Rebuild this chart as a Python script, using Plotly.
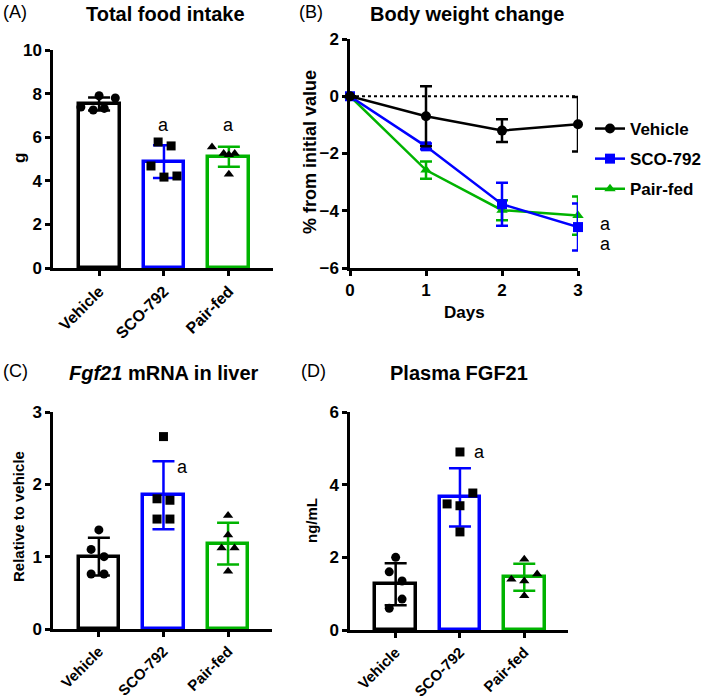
import plotly.graph_objects as go

# ---------------- data ----------------
groups = ["Vehicle", "SCO-792", "Pair-fed"]

# (A) Total food intake (g)
food_mean = [7.52, 4.88, 5.10]
food_sd = [0.30, 0.75, 0.46]
food_vehicle = [7.38, 7.25, 7.32, 7.90, 7.80]
food_sco = [4.68, 4.17, 4.22, 5.78, 5.60]
food_pair = [5.55, 5.25, 5.25, 5.20, 4.30]

# (B) Body weight change (% from initial value)
days = [0, 1, 2, 3]
bw_vehicle = [0.0, -0.70, -1.20, -0.98]
bw_vehicle_sd = [0.0, 1.05, 0.40, 0.95]
bw_sco = [0.0, -1.75, -3.77, -4.57]
bw_sco_sd = [0.0, 0.10, 0.75, 0.82]
bw_pair = [0.0, -2.58, -3.98, -4.17]
bw_pair_sd = [0.0, 0.30, 0.35, 0.67]

# (C) Fgf21 mRNA in liver (relative to vehicle)
mrna_mean = [1.00, 1.85, 1.18]
mrna_sd = [0.26, 0.47, 0.29]
mrna_vehicle = [1.37, 1.10, 1.00, 0.76, 0.76]
mrna_sco = [2.66, 1.80, 1.78, 1.52, 1.52]
mrna_pair = [1.57, 1.30, 1.12, 1.12, 0.80]

# (D) Plasma FGF21 (ng/mL)
fgf_mean = [1.26, 3.65, 1.45]
fgf_sd = [0.58, 0.80, 0.37]
fgf_vehicle = [2.00, 1.60, 1.35, 0.85, 0.60]
fgf_sco = [4.90, 3.77, 3.47, 3.42, 2.70]
fgf_pair = [1.95, 1.40, 1.35, 1.54, 0.94]

# horizontal scatter offsets of the individual dots (category units)
jit_A = [[-0.28, -0.09, 0.08, 0.0, 0.25], [-0.20, 0.0, 0.20, -0.09, 0.11], [-0.26, -0.08, 0.09, 0.0, 0.0]]
jit_C = [[0.0, -0.12, 0.08, -0.12, 0.08], [0.0, -0.10, 0.10, -0.10, 0.10], [0.0, 0.0, -0.10, 0.10, 0.0]]
jit_D = [[0.0, -0.10, 0.10, 0.10, -0.10], [0.0, 0.20, -0.20, 0.0, 0.0], [0.0, -0.20, 0.0, 0.20, 0.0]]

# significance marks
sig_A = [(1, 6.55), (2, 6.55)]
sig_B = [-4.45, -5.15]
sig_C = (1, 2.24)
sig_D = (1, 4.9)

# ---------------- style ----------------
FONT = "Liberation Sans, Arial, sans-serif"
colors = ["#000000", "#0000ff", "#00b300"]
symbols = ["circle", "square", "triangle-up"]
W, H = 709, 700


def dx(a, b):
    return [a / W, b / W]


def dy(top, bottom):
    return [1 - bottom / H, 1 - top / H]


fig = go.Figure()

axis_common = dict(showline=True, linecolor="black", linewidth=2.5, ticks="outside",
                   ticklen=5, tickwidth=2.5, tickcolor="black", showgrid=False,
                   zeroline=False, mirror=False, automargin=False,
                   tickfont=dict(family=FONT, size=17, color="black", weight="bold"))


def bar_panel(xa, ya, means, sds, pts, jit):
    for i in range(3):
        fig.add_trace(go.Bar(
            x=[i], y=[means[i]], width=0.63, xaxis=xa, yaxis=ya,
            marker=dict(color="white", line=dict(color=colors[i], width=3.5)),
            error_y=dict(type="data", array=[sds[i]], color=colors[i], thickness=2.5, width=11),
            showlegend=False, hoverinfo="skip"))
    for i in range(3):
        fig.add_trace(go.Scatter(
            x=[i + o for o in jit[i]], y=pts[i], mode="markers", xaxis=xa, yaxis=ya,
            marker=dict(symbol=symbols[i], size=9, color="black"),
            showlegend=False, hoverinfo="skip", cliponaxis=False))


bar_panel("x", "y", food_mean, food_sd, [food_vehicle, food_sco, food_pair], jit_A)
bar_panel("x3", "y3", mrna_mean, mrna_sd, [mrna_vehicle, mrna_sco, mrna_pair], jit_C)
bar_panel("x4", "y4", fgf_mean, fgf_sd, [fgf_vehicle, fgf_sco, fgf_pair], jit_D)

# line panel B (draw pair-fed first so vehicle is on top; legend ranked Vehicle first)
series_B = [("Vehicle", bw_vehicle, bw_vehicle_sd), ("SCO-792", bw_sco, bw_sco_sd),
            ("Pair-fed", bw_pair, bw_pair_sd)]
for i in [2, 1, 0]:
    name, vals, sd = series_B[i]
    fig.add_trace(go.Scatter(
        x=days, y=vals, mode="lines+markers", name=name, xaxis="x2", yaxis="y2",
        line=dict(color=colors[i], width=2.5),
        marker=dict(symbol=symbols[i], size=10, color=colors[i]),
        error_y=dict(type="data", array=sd, color=colors[i], thickness=2.5, width=6),
        cliponaxis=False, legendgroup=name, legendrank=i + 1, hoverinfo="skip"))

bar_x = dict(tickvals=[0, 1, 2], ticktext=groups, tickangle=-45, range=[-0.71, 2.68])
ax_barA = dict(axis_common, tickfont=dict(family=FONT, size=16, color="black", weight="bold"))
ax_barCD = dict(axis_common, tickfont=dict(family=FONT, size=15, color="black", weight="bold"))

fig.update_layout(
    width=W, height=H, margin=dict(l=0, r=0, t=0, b=0, autoexpand=False),
    paper_bgcolor="white", plot_bgcolor="white",
    font=dict(family=FONT, color="black"),
    bargap=0,
    xaxis=dict(domain=dx(53, 273), anchor="y", **bar_x, **ax_barA),
    yaxis=dict(domain=dy(50, 268), anchor="x", range=[0, 10], dtick=2, **axis_common),
    xaxis2=dict(domain=dx(350, 578), anchor="y2", range=[0, 3], dtick=1, **axis_common),
    yaxis2=dict(domain=dy(39, 268), anchor="x2", range=[-6, 2], dtick=2, **axis_common),
    xaxis3=dict(domain=dx(53, 272), anchor="y3", **bar_x, **ax_barCD),
    yaxis3=dict(domain=dy(412, 629), anchor="x3", range=[0, 3], dtick=1, **axis_common),
    xaxis4=dict(domain=dx(350, 568), anchor="y4", **bar_x, **ax_barCD),
    yaxis4=dict(domain=dy(412, 630), anchor="x4", range=[0, 6], dtick=2, **axis_common),
    legend=dict(x=590 / W, y=1 - 111 / H, xanchor="left", yanchor="top",
                traceorder="grouped", tracegroupgap=5, itemwidth=30,
                font=dict(family=FONT, size=17, color="black", weight="bold"),
                bgcolor="rgba(0,0,0,0)"),
    showlegend=True,
)

# dotted zero line in B
fig.add_shape(type="line", xref="x2", yref="y2", x0=days[0], x1=days[-1], y0=0, y1=0,
              line=dict(color="black", width=2, dash="dot"), layer="below")

ann = []


def text(x, y, s, size, bold=True, angle=0, xanchor="center"):
    ann.append(dict(xref="paper", yref="paper", x=x / W, y=1 - y / H, text=s,
                    showarrow=False, xanchor=xanchor, yanchor="middle", textangle=angle,
                    font=dict(family=FONT, size=size, color="black",
                              weight="bold" if bold else "normal")))


text(1, 12, "(A)", 18, bold=False, xanchor="left")
text(165, 14, "Total food intake", 20)
text(297, 12, "(B)", 18, bold=False, xanchor="left")
text(467, 14, "Body weight change", 20)
text(1, 371, "(C)", 18, bold=False, xanchor="left")
text(164, 373, "<i>Fgf21</i> mRNA in liver", 20)
text(299, 371, "(D)", 18, bold=False, xanchor="left")
text(459, 373, "Plasma FGF21", 20)

text(19, 158, "g", 17, angle=-90)
text(310, 152, "% from initial value", 18, angle=-90)
text(18, 517, "Relative to vehicle", 15, angle=-90)
text(311, 521, "ng/mL", 15, angle=-90)
text(464, 313, "Days", 17)

afont = dict(family=FONT, size=18, color="black")
for (xv, yv) in sig_A:
    ann.append(dict(xref="x", yref="y", x=xv, y=yv, text="a", showarrow=False, font=afont))
for yv in sig_B:
    ann.append(dict(xref="x2", yref="y2", x=days[-1], y=yv, text="a", showarrow=False,
                    xanchor="left", xshift=20, font=afont))
ann.append(dict(xref="x3", yref="y3", x=sig_C[0], y=sig_C[1], text="a", showarrow=False,
                xanchor="left", xshift=12, font=afont))
ann.append(dict(xref="x4", yref="y4", x=sig_D[0], y=sig_D[1], text="a", showarrow=False,
                xanchor="left", xshift=12, font=afont))

fig.update_layout(annotations=ann)

# remove the default 8px page margin so the figure fills the window exactly
fig.write_html("out.html", config={"displayModeBar": False},
               post_script="document.body.style.margin='0';")
